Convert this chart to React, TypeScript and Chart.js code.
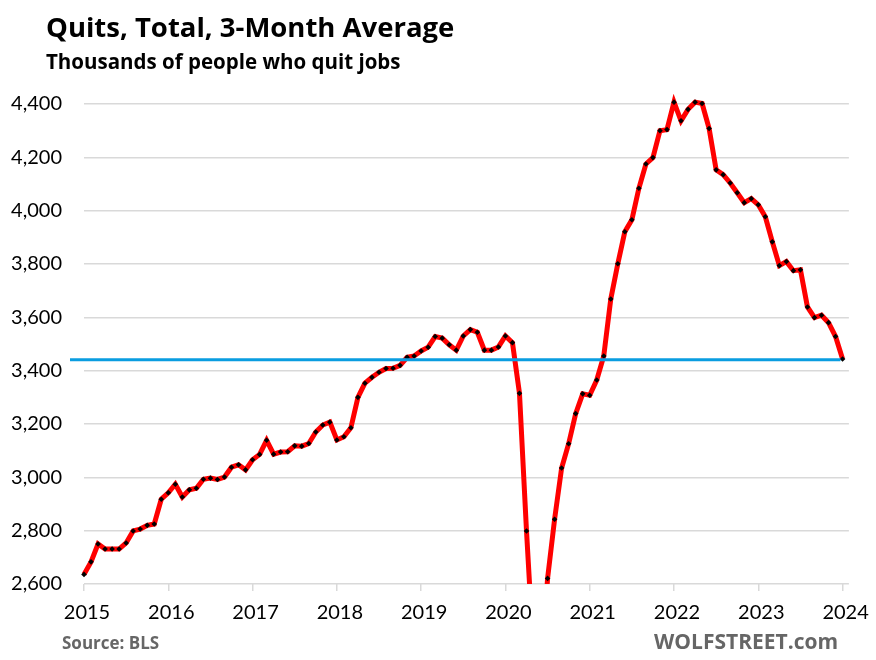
import { useEffect, useRef } from "react";
import Chart from "chart.js/auto";

// Monthly 3-month average of total quits (thousands), Jan 2015 .. Jan 2024
const startYear = 2015;
const quits2015 = [2636, 2683, 2750, 2731, 2731, 2731, 2754, 2799, 2806, 2820, 2825, 2918];
const quits2016 = [2942, 2974, 2926, 2953, 2959, 2993, 2997, 2992, 3001, 3038, 3047, 3028];
const quits2017 = [3066, 3086, 3139, 3087, 3095, 3096, 3118, 3117, 3127, 3170, 3196, 3207];
const quits2018 = [3140, 3152, 3186, 3300, 3353, 3375, 3394, 3408, 3409, 3420, 3450, 3455];
const quits2019 = [3474, 3488, 3528, 3522, 3497, 3477, 3530, 3554, 3544, 3477, 3477, 3489];
const quits2020 = [3530, 3505, 3315, 2799, 2340, 2240, 2621, 2843, 3035, 3126, 3239, 3313];
const quits2021 = [3308, 3365, 3455, 3669, 3801, 3921, 3966, 4084, 4175, 4199, 4300, 4304];
const quits2022 = [4407, 4337, 4380, 4407, 4402, 4308, 4153, 4135, 4104, 4067, 4030, 4045];
const quits2023 = [4022, 3977, 3883, 3794, 3809, 3775, 3778, 3639, 3599, 3608, 3580, 3528];
const quits2024 = [3444];

const quits = [
  ...quits2015, ...quits2016, ...quits2017, ...quits2018, ...quits2019,
  ...quits2020, ...quits2021, ...quits2022, ...quits2023, ...quits2024,
];

const xTickYears = [2015, 2016, 2017, 2018, 2019, 2020, 2021, 2022, 2023, 2024];
const yTickValues = [2600, 2800, 3000, 3200, 3400, 3600, 3800, 4000, 4200, 4400];

// Horizontal reference line at the latest level
const refLevel = 3441;
const refFromYear = 2014.834;
const refToYear = 2023.975;

const AXIS_FONT = "Lato, 'Noto Sans', sans-serif";
const TEXT_FONT = "'Open Sans', 'Noto Sans', sans-serif";

export default function App() {
  const canvasRef = useRef<HTMLCanvasElement | null>(null);

  useEffect(() => {
    const canvas = canvasRef.current;
    if (!canvas) return;
    const points = quits.map((v, i) => ({ x: startYear + i / 12, y: v }));
    const chart = new Chart(canvas, {
      type: "line",
      data: {
        datasets: [
          {
            data: points,
            borderColor: "#ff0000",
            borderWidth: 5,
            pointStyle: "rectRot",
            pointRadius: 2.8,
            pointBackgroundColor: "#000000",
            pointBorderWidth: 0,
            tension: 0,
            clip: { left: false, top: false, right: false, bottom: 0 } as any,
            order: 2,
          },
          {
            data: [
              { x: refFromYear, y: refLevel },
              { x: refToYear, y: refLevel },
            ],
            borderColor: "#0a9de0",
            borderWidth: 3,
            pointRadius: 0,
            tension: 0,
            clip: false as any,
            order: 1,
          },
        ],
      },
      options: {
        responsive: false,
        animation: false,
        devicePixelRatio: 1,
        layout: { padding: { top: 104, right: 27, bottom: 32, left: 0 } },
        plugins: {
          legend: { display: false },
          tooltip: { enabled: false },
          title: { display: false },
        },
        scales: {
          x: {
            type: "linear",
            min: 2015,
            max: 2024.075,
            afterBuildTicks: (s: any) => {
              s.ticks = xTickYears.map((v) => ({ value: v }));
            },
            afterFit: (s: any) => {
              s.height = 44;
            },
            grid: {
              drawOnChartArea: false,
              drawTicks: true,
              tickLength: 7,
              color: "#d9d9d9",
              lineWidth: 1.5,
            },
            border: { display: false },
            ticks: {
              autoSkip: false,
              maxRotation: 0,
              padding: 10,
              labelOffset: 3,
              color: "#000000",
              font: { family: AXIS_FONT, size: 20 },
              callback: (v: any) => String(v),
            },
          },
          y: {
            min: 2600,
            max: 4400,
            afterBuildTicks: (s: any) => {
              s.ticks = yTickValues.map((v) => ({ value: v }));
            },
            afterFit: (s: any) => {
              s.width = 84;
            },
            grid: {
              color: "#d9d9d9",
              lineWidth: 1.5,
              drawTicks: false,
            },
            border: { display: false },
            ticks: {
              padding: 22,
              color: "#000000",
              font: { family: AXIS_FONT, size: 20 },
              callback: (v: any) => Number(v).toLocaleString("en-US"),
            },
          },
        },
      },
    });
    return () => chart.destroy();
  }, []);

  const textBase = {
    position: "absolute" as const,
    fontFamily: TEXT_FONT,
    fontWeight: 700,
    whiteSpace: "nowrap" as const,
  };

  return (
    <div
      style={{
        position: "fixed",
        left: 0,
        top: 0,
        width: 876,
        height: 660,
        background: "#ffffff",
        overflow: "hidden",
      }}
    >
      <canvas
        ref={canvasRef}
        width={876}
        height={660}
        style={{ position: "absolute", left: 0, top: 0, width: 876, height: 660 }}
      />
      <div style={{ ...textBase, left: 46, top: 13, fontSize: 27.5, lineHeight: "27.5px", color: "#000" }}>
        Quits, Total, 3-Month Average
      </div>
      <div style={{ ...textBase, left: 46, top: 51, fontSize: 20.5, lineHeight: "20.5px", color: "#000" }}>
        Thousands of people who quit jobs
      </div>
      <div style={{ ...textBase, left: 62, top: 634, fontSize: 17, lineHeight: "17px", color: "#666" }}>
        Source: BLS
      </div>
      <div style={{ ...textBase, left: 654, top: 631, fontSize: 21, lineHeight: "21px", color: "#666" }}>
        WOLFSTREET.com
      </div>
    </div>
  );
}
